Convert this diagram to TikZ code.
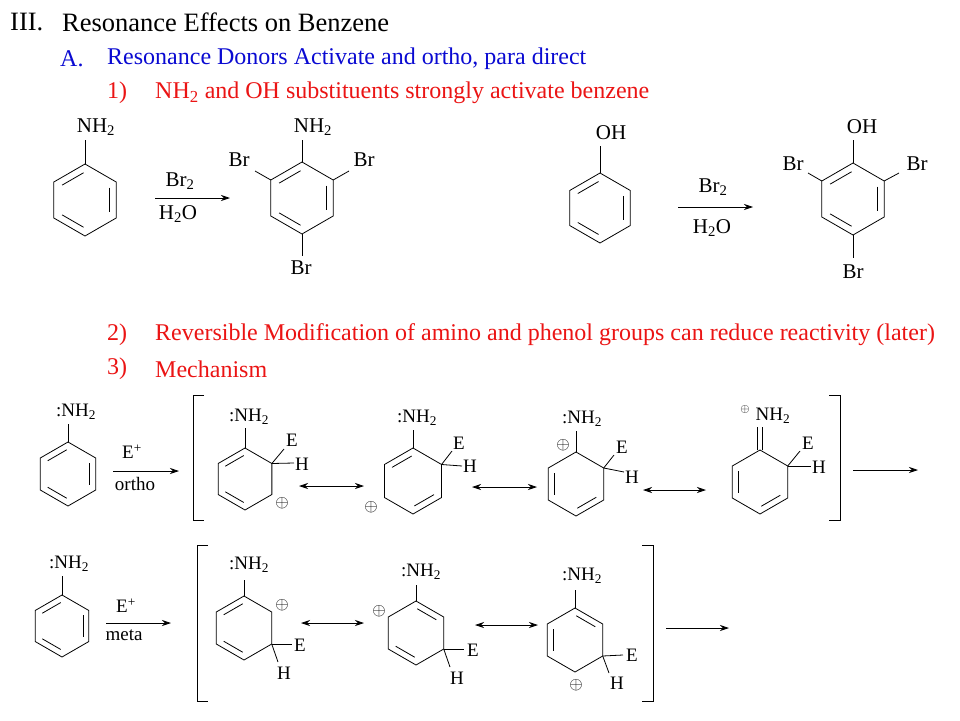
\documentclass[tikz,border=0pt]{standalone}
\usepackage{fontspec}
\setmainfont{Liberation Serif}
\usetikzlibrary{calc,arrows.meta}
\definecolor{tblue}{RGB}{10,10,210}
\definecolor{tred}{RGB}{235,20,20}
\newcommand\ring[5]{%
 \coordinate (#1) at (#2,#3);
 \foreach \k in {1,...,6}{%
  \coordinate (#1-\k) at ($(#2,#3)+({#4*cos(150-60*\k)},{-#4*sin(150-60*\k)})$);
  \coordinate (#1-\k-in) at ($(#2,#3)+({0.78*#4*cos(150-60*\k)},{-0.78*#4*sin(150-60*\k)})$);}
 \draw[bnd] (#1-1)--(#1-2)--(#1-3)--(#1-4)--(#1-5)--(#1-6)--cycle;
 \foreach \e in {#5}{\pgfmathtruncatemacro\nx{mod(\e,6)+1}
  \draw[bnd] ($(#1-\e-in)!0.06!(#1-\nx-in)$) -- ($(#1-\nx-in)!0.06!(#1-\e-in)$);}
}
\tikzset{bnd/.style={line width=0.8pt},
 lab/.style={font=\fontsize{21}{21}\selectfont, inner sep=0pt},
 mlab/.style={font=\fontsize{19}{19}\selectfont, inner sep=0pt},
 rarr/.style={line width=0.8pt,-{Stealth[length=9pt,width=6pt]}},
 darr/.style={line width=0.8pt,{Stealth[length=9pt,width=6pt]}-{Stealth[length=9pt,width=6pt]}},
 brk/.style={line width=0.8pt},
 head/.style={anchor=west,inner sep=0pt,font=\fontsize{24}{24}\selectfont}}
\begin{document}
\begin{tikzpicture}[x=1pt,y=-1pt]
\useasboundingbox[fill=white] (0,0) rectangle (960,720);
% headings
\node[head,font=\fontsize{26.5}{26.5}\selectfont] (t1) at (10,22) {III.};
\node[head,font=\fontsize{26.5}{26.5}\selectfont] (t2) at (62,22) {Resonance Effects on Benzene};
\node[head,text=tblue] (a1) at (60,59) {A.};
\node[head,text=tblue] (a2) at (107,59) {Resonance Donors Activate and ortho, para direct};
\node[head,text=tred] (n1) at (107,93) {1)};
\node[head,text=tred] (n1t) at (155,93) {NH\textsubscript{2} and OH substituents strongly activate benzene};
\node[head,text=tred] (n2) at (107,335) {2)};
\node[head,text=tred] (n2t) at (155,335) {Reversible Modification of amino and phenol groups can reduce reactivity (later)};
\node[head,text=tred] (n3) at (107,369) {3)};
\node[head,text=tred] (n3t) at (155,369) {Mechanism};

% aniline bromination
\ring{A}{85}{200}{36}{6,2,4}
\node[lab] (Anh) at (96,127) {NH\textsubscript{2}};
\draw[bnd] (A-1) -- (85,140);
\coordinate (r1s) at (155,198); \coordinate (r1e) at (230,198);
\draw[rarr] (r1s) -- (r1e);
\node[lab] (r1a) at (180,181) {Br\textsubscript{2}};
\node[lab] (r1b) at (178,214) {H\textsubscript{2}O};
\ring{B}{302}{198}{36}{6,2,4}
\node[lab] (Bnh) at (313,127) {NH\textsubscript{2}};
\draw[bnd] (B-1) -- (302,140);
\node[lab] (Bb1) at (239,160) {Br};
\draw[bnd] (B-6) -- (255,171);
\node[lab] (Bb2) at (364,160) {Br};
\draw[bnd] (B-2) -- (349,171);
\node[lab] (Bb3) at (301,268) {Br};
\draw[bnd] (B-4) -- (302,256);

% phenol bromination
\ring{P}{600}{208}{35}{6,2,4}
\node[lab] (Poh) at (611,133) {OH};
\draw[bnd] (P-1) -- (600,146);
\coordinate (r2s) at (678,207); \coordinate (r2e) at (753,207);
\draw[rarr] (r2s) -- (r2e);
\node[lab] (r2a) at (713,187) {Br\textsubscript{2}};
\node[lab] (r2b) at (712,228) {H\textsubscript{2}O};
\ring{Q}{853}{199}{36}{6,2,4}
\node[lab] (Qoh) at (862,127) {OH};
\draw[bnd] (Q-1) -- (853,140);
\node[lab] (Qb1) at (793,164) {Br};
\draw[bnd] (Q-6) -- (808,173);
\node[lab] (Qb2) at (917,164) {Br};
\draw[bnd] (Q-2) -- (899,173);
\node[lab] (Qb3) at (853,272) {Br};
\draw[bnd] (Q-4) -- (853,258);

% mechanism ortho
\ring{M}{68}{474}{32}{6,2,4}
\node[mlab] (Mnh) at (76,412) {:NH\textsubscript{2}};
\draw[bnd] (M-1) -- (68,424);
\coordinate (o1s) at (113,471); \coordinate (o1e) at (179,471);
\draw[rarr] (o1s) -- (o1e);
\node[mlab] (oE) at (132,452) {E\textsuperscript{+}};
\node[mlab] (oo) at (135,484) {ortho};
\draw[brk] (204,395) -- (193,395) -- (193,520) -- (204,520);

\ring{O1}{245}{479}{31}{6,4}
\node[mlab] (O1n) at (249,417) {:NH\textsubscript{2}};
\draw[bnd] (O1-1) -- (245,428);
\draw[bnd] (O1-2) -- (284,449); \node[mlab] (O1E) at (292,440) {E};
\draw[bnd] (O1-2) -- (294,463); \node[mlab] (O1H) at (302,464) {H};
\node[mlab] (O1p) at (282,503) {$\oplus$};
\coordinate (d1s) at (299,486); \coordinate (d1e) at (364,486);
\draw[darr] (d1s) -- (d1e);

\ring{O2}{413}{481}{33}{6,3}
\node[mlab] (O2n) at (417,418) {:NH\textsubscript{2}};
\draw[bnd] (O2-1) -- (413,430);
\draw[bnd] (O2-2) -- (452,451); \node[mlab] (O2E) at (459,443) {E};
\draw[bnd] (O2-2) -- (462,466); \node[mlab] (O2H) at (470,466) {H};
\node[mlab] (O2p) at (371,507) {$\oplus$};
\coordinate (d2s) at (472,487); \coordinate (d2e) at (537,487);
\draw[darr] (d2s) -- (d2e);

\ring{O3}{576}{484}{32}{5,3}
\node[mlab] (O3n) at (582,419) {:NH\textsubscript{2}};
\draw[bnd] (O3-1) -- (576,431);
\draw[bnd] (O3-2) -- (614,455); \node[mlab] (O3E) at (622,447) {E};
\draw[bnd] (O3-2) -- (624,472); \node[mlab] (O3H) at (632,477) {H};
\node[mlab] (O3p) at (563,445) {$\oplus$};
\coordinate (d3s) at (643,490); \coordinate (d3e) at (706,490);
\draw[darr] (d3s) -- (d3e);

\ring{O4}{760}{482}{32}{5,3}
\node[mlab] (O4n) at (773,416) {NH\textsubscript{2}};
\node[font=\fontsize{13}{13}\selectfont,inner sep=0pt] (O4p) at (745,409) {$\oplus$};
\draw[bnd] ($(O4-1)+(-2.2,0)$) -- (757.8,427);
\draw[bnd] ($(O4-1)+(2.2,0)$) -- (762.2,427);
\draw[bnd] (O4-2) -- (800,451); \node[mlab] (O4E) at (808,443) {E};
\draw[bnd] (O4-2) -- (811,466); \node[mlab] (O4H) at (819,467) {H};
\draw[brk] (829,395) -- (840,395) -- (840,520) -- (829,520);
\coordinate (o2s) at (853,470); \coordinate (o2e) at (918,470);
\draw[rarr] (o2s) -- (o2e);

% mechanism meta
\ring{N}{62}{626}{31}{6,2,4}
\node[mlab] (Nnh) at (69,564) {:NH\textsubscript{2}};
\draw[bnd] (N-1) -- (62,576);
\coordinate (m1s) at (106,623); \coordinate (m1e) at (171,623);
\draw[rarr] (m1s) -- (m1e);
\node[mlab] (mE) at (126,606) {E\textsuperscript{+}};
\node[mlab] (mm) at (124,635) {meta};
\draw[brk] (208,545) -- (197,545) -- (197,701) -- (208,701);

\ring{T1}{244}{628}{32}{6,4}
\node[mlab] (T1n) at (249,565) {:NH\textsubscript{2}};
\draw[bnd] (T1-1) -- (244,580);
\draw[bnd] (T1-3) -- (292,644); \node[mlab] (T1E) at (300,645) {E};
\draw[bnd] (T1-3) -- (278,662); \node[mlab] (T1H) at (284,673) {H};
\node[mlab] (T1p) at (282,605) {$\oplus$};
\coordinate (e1s) at (301,623); \coordinate (e1e) at (364,623);
\draw[darr] (e1s) -- (e1e);

\ring{T2}{416}{633}{32}{1,4}
\node[mlab] (T2n) at (421,572) {:NH\textsubscript{2}};
\draw[bnd] (T2-1) -- (416,585);
\draw[bnd] (T2-3) -- (464,649); \node[mlab] (T2E) at (473,650) {E};
\draw[bnd] (T2-3) -- (450,667); \node[mlab] (T2H) at (457,678) {H};
\node[mlab] (T2p) at (379,611) {$\oplus$};
\coordinate (e2s) at (475,625); \coordinate (e2e) at (538,625);
\draw[darr] (e2s) -- (e2e);

\ring{T3}{575}{640}{32}{1,5}
\node[mlab] (T3n) at (582,576) {:NH\textsubscript{2}};
\draw[bnd] (T3-1) -- (575,590);
\draw[bnd] (T3-3) -- (623,655); \node[mlab] (T3E) at (632,655) {E};
\draw[bnd] (T3-3) -- (609,673); \node[mlab] (T3H) at (617,683) {H};
\node[mlab] (T3p) at (576,685) {$\oplus$};
\draw[brk] (642,545) -- (653,545) -- (653,701) -- (642,701);
\coordinate (m2s) at (666,628); \coordinate (m2e) at (729,628);
\draw[rarr] (m2s) -- (m2e);
\end{tikzpicture}
\end{document}
